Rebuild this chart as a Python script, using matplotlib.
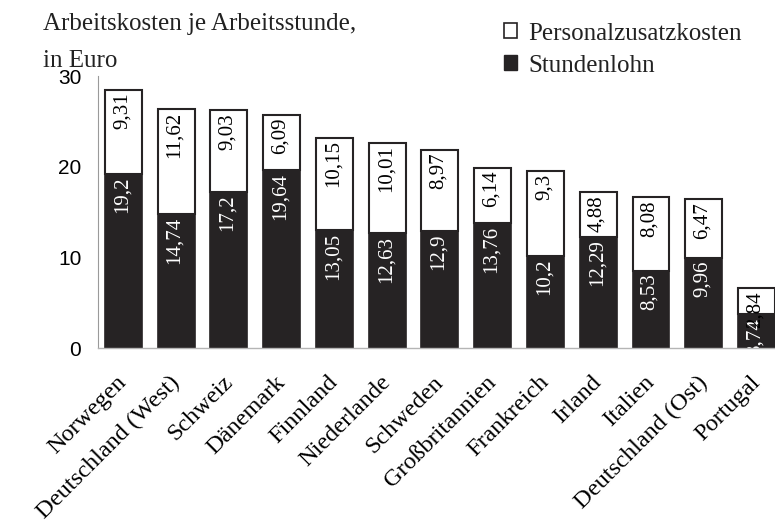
import matplotlib
matplotlib.use('Agg')
import matplotlib.pyplot as plt
from matplotlib.patches import Patch
from matplotlib.transforms import ScaledTranslation
import numpy as np

# Arbeitskosten je Arbeitsstunde (Euro)
laender = ["Norwegen", "Deutschland (West)", "Schweiz", "Dänemark", "Finnland",
           "Niederlande", "Schweden", "Großbritannien", "Frankreich", "Irland",
           "Italien", "Deutschland (Ost)", "Portugal"]
stundenlohn = [19.2, 14.74, 17.2, 19.64, 13.05, 12.63, 12.9, 13.76, 10.2, 12.29, 8.53, 9.96, 3.74]
zusatzkosten = [9.31, 11.62, 9.03, 6.09, 10.15, 10.01, 8.97, 6.14, 9.3, 4.88, 8.08, 6.47, 2.84]
y_ticks = [0, 10, 20, 30]

serif = ['Liberation Serif', 'DejaVu Serif']
sans = ['Liberation Sans', 'DejaVu Sans']
dunkel = '#262324'

fig = plt.figure(figsize=(7.75, 5.29), dpi=100)
ax = fig.add_axes([98 / 775, 1 - 348 / 529, 1 - 98 / 775, 272 / 529])

x = np.arange(len(laender))
b1 = ax.bar(x, stundenlohn, width=0.7, color=dunkel, edgecolor=dunkel, linewidth=1.2, zorder=1)
b2 = ax.bar(x, zusatzkosten, width=0.7, bottom=stundenlohn, color='white',
            edgecolor=dunkel, linewidth=1.5, zorder=3)

def fmt(v):
    return str(v).replace('.', ',')

# Werte in die Balken schreiben (oben ausgerichtet)
for i in range(len(x)):
    ax.annotate(fmt(stundenlohn[i]), (x[i], stundenlohn[i]), xytext=(-1, -2),
                textcoords='offset points', rotation=90, ha='center', va='top',
                color='white', fontsize=15, family=serif, zorder=2,
                annotation_clip=False, clip_on=True)
    top = stundenlohn[i] + zusatzkosten[i]
    ax.annotate(fmt(zusatzkosten[i]), (x[i], top), xytext=(-1, -2),
                textcoords='offset points', rotation=90, ha='center', va='top',
                color='black', fontsize=15, family=serif, zorder=4,
                annotation_clip=False, clip_on=True)

ax.set_xlim(-0.48, 12.35)
ax.set_ylim(0, 30)
ax.set_yticks(y_ticks)
ax.set_yticklabels([str(t) for t in y_ticks], family=sans, fontsize=15)
ax.tick_params(axis='y', length=0, pad=12)
ax.tick_params(axis='x', length=0, pad=17)
ax.set_xticks(x)
ax.set_xticklabels(laender, rotation=45, ha='right', va='top', rotation_mode='anchor',
                   family=serif, fontsize=17.5)
shift = ScaledTranslation(-7 / 100, 0, fig.dpi_scale_trans)
for lbl in ax.get_xticklabels():
    lbl.set_transform(lbl.get_transform() + shift)

for s in ['top', 'right']:
    ax.spines[s].set_visible(False)
ax.spines['left'].set_color('#9a9a9a')
ax.spines['bottom'].set_color('#b5b5b5')
ax.spines['left'].set_linewidth(0.8)
ax.spines['bottom'].set_linewidth(1.0)

# Titel
fig.text(43 / 775, 1 - 30 / 529, 'Arbeitskosten je Arbeitsstunde,', family=serif,
         fontsize=18, va='baseline', ha='left', color='#222222')
fig.text(43 / 775, 1 - 67 / 529, 'in Euro', family=serif,
         fontsize=18, va='baseline', ha='left', color='#222222')

# Legende
handles = [Patch(facecolor='white', edgecolor=dunkel, linewidth=1.2, label='Personalzusatzkosten'),
           Patch(facecolor=dunkel, edgecolor=dunkel, label='Stundenlohn')]
fig.legend(handles=handles, loc='upper left', bbox_to_anchor=(481 / 775, 1 - 0 / 529),
           frameon=False, handlelength=0.55, handleheight=0.55, handletextpad=0.45,
           labelspacing=0.4, prop={'family': serif, 'size': 18}, labelcolor='#222222')

fig.savefig('out.png', dpi=100)
